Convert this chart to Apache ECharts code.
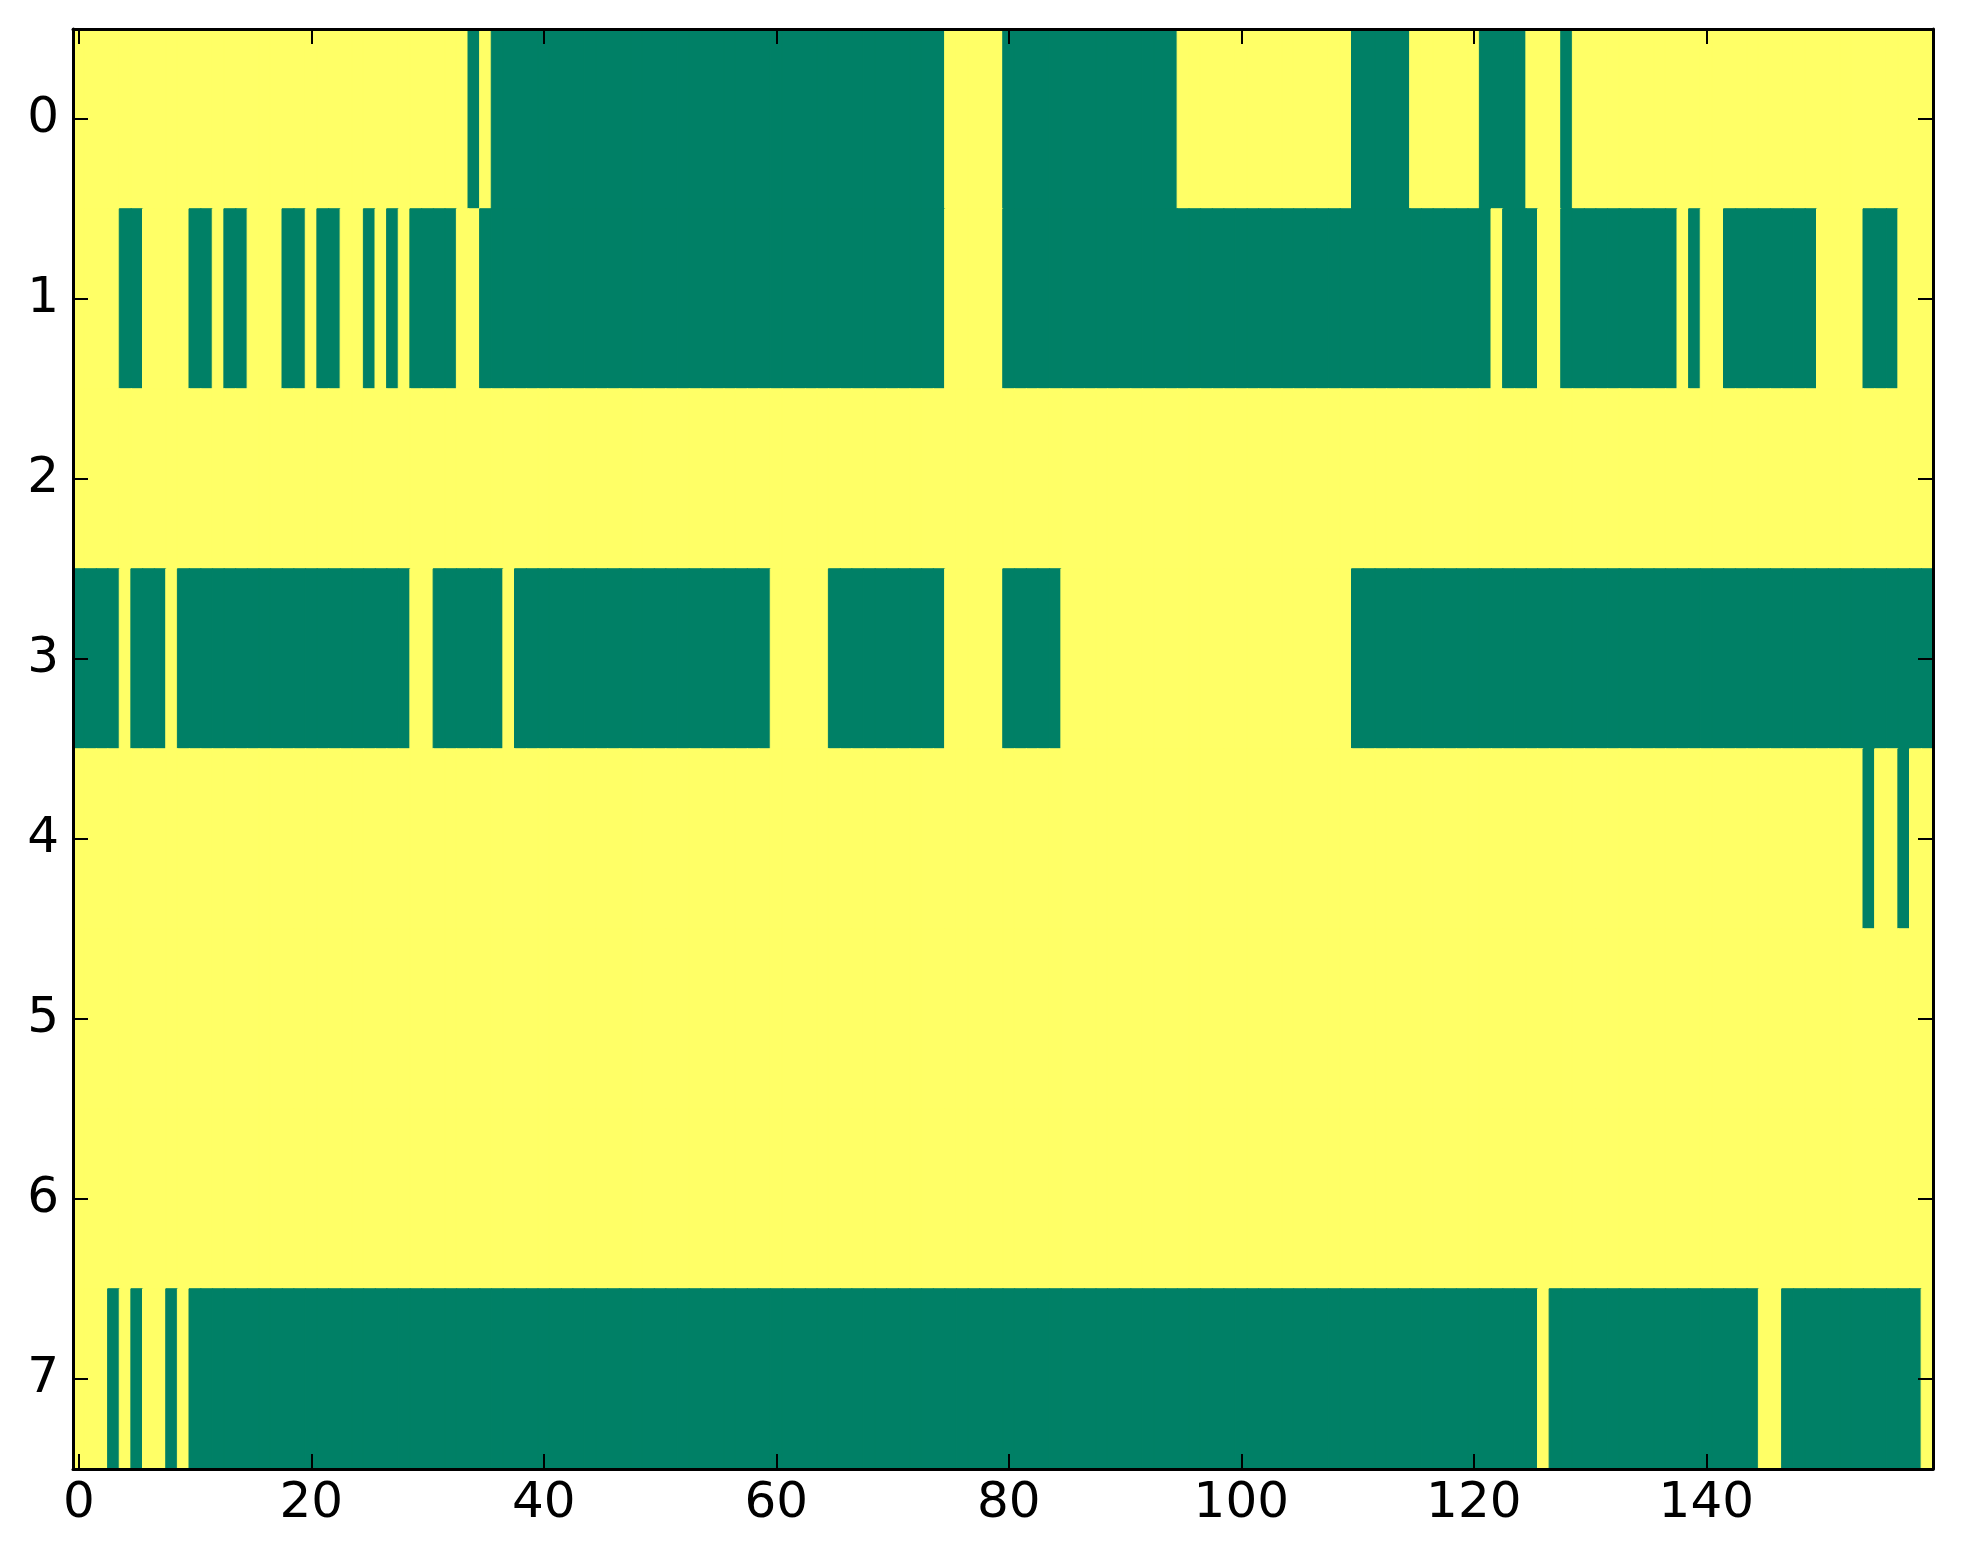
<!DOCTYPE html>
<html>
<head>
<meta charset="utf-8">
<script src="https://cdn.jsdelivr.net/npm/echarts@6/dist/echarts.min.js"></script>
<style>
html,body{margin:0;padding:0;background:#fff;}
#chart{width:1963px;height:1564px;}
</style>
</head>
<body>
<div id="chart"></div>
<script>
// Cell values per row, one character per column (0..159), groups of 10.
// 0 = low (green), 1 = high (yellow)
const row0 = "1111111111 1111111111 1111111111 1111010000 0000000000 0000000000 0000000000 0000011111 0000000000 0000011111 1111111111 0000011111 1000011101 1111111111 1111111111 1111111111";
const row1 = "1111001111 0010011100 1001101010 0001100000 0000000000 0000000000 0000000000 0000011111 0000000000 0000000000 0000000000 0000000000 0010001100 0000000010 1100000000 1111000111";
const row2 = "1111111111 1111111111 1111111111 1111111111 1111111111 1111111111 1111111111 1111111111 1111111111 1111111111 1111111111 1111111111 1111111111 1111111111 1111111111 1111111111";
const row3 = "0000100010 0000000000 0000000001 1000000100 0000000000 0000000000 1111100000 0000011111 0000011111 1111111111 1111111111 0000000000 0000000000 0000000000 0000000000 0000000000";
const row4 = "1111111111 1111111111 1111111111 1111111111 1111111111 1111111111 1111111111 1111111111 1111111111 1111111111 1111111111 1111111111 1111111111 1111111111 1111111111 1111011011";
const row5 = "1111111111 1111111111 1111111111 1111111111 1111111111 1111111111 1111111111 1111111111 1111111111 1111111111 1111111111 1111111111 1111111111 1111111111 1111111111 1111111111";
const row6 = "1111111111 1111111111 1111111111 1111111111 1111111111 1111111111 1111111111 1111111111 1111111111 1111111111 1111111111 1111111111 1111111111 1111111111 1111111111 1111111111";
const row7 = "1110101101 0000000000 0000000000 0000000000 0000000000 0000000000 0000000000 0000000000 0000000000 0000000000 0000000000 0000000000 0000001000 0000000000 0000011000 0000000001";

const rows = [row0, row1, row2, row3, row4, row5, row6, row7];
const rowLabels = ['0','1','2','3','4','5','6','7'];
const xTickLabels = [0, 20, 40, 60, 80, 100, 120, 140];
const nCols = 160;

// summer colormap endpoints
const palette = ['#008066', '#ffff66'];

const colCategories = [];
for (let i = 0; i < nCols; i++) colCategories.push(String(i));

const cells = [];
rows.forEach(function (r, y) {
  const s = r.replace(/\s+/g, '');
  for (let x = 0; x < s.length; x++) {
    const v = Number(s[x]);
    const c = palette[v];
    cells.push({ value: [x, y, v], itemStyle: { color: c, borderColor: c, borderWidth: 1 } });
  }
});

const tickSet = new Set(xTickLabels.map(String));
const FONT = 'DejaVu Sans';
const lineStyle = { color: '#000', width: 3 };
const tickStyle = { color: '#000', width: 2 };

const chart = echarts.init(document.getElementById('chart'), null, { renderer: 'canvas' });
chart.setOption({
  animation: false,
  backgroundColor: '#ffffff',
  grid: { left: 73, right: 30, top: 29, bottom: 95 },
  xAxis: [
    {
      type: 'category', data: colCategories, position: 'bottom', z: 10,
      axisLine: { show: true, lineStyle: lineStyle },
      axisTick: { show: true, inside: true, length: 15, alignWithLabel: true,
        interval: function (i, v) { return tickSet.has(v); }, lineStyle: tickStyle },
      axisLabel: { show: true, fontSize: 50, color: '#000', fontFamily: FONT, margin: 10,
        interval: function (i, v) { return tickSet.has(v); } },
      splitLine: { show: false }
    },
    {
      type: 'category', data: colCategories, position: 'top', z: 10,
      axisLine: { show: true, lineStyle: lineStyle },
      axisTick: { show: true, inside: true, length: 15, alignWithLabel: true,
        interval: function (i, v) { return tickSet.has(v); }, lineStyle: tickStyle },
      axisLabel: { show: false },
      splitLine: { show: false }
    }
  ],
  yAxis: [
    {
      type: 'category', data: rowLabels, inverse: true, position: 'left', z: 10,
      axisLine: { show: true, lineStyle: lineStyle },
      axisTick: { show: true, inside: true, length: 15, alignWithLabel: true, interval: 0, lineStyle: tickStyle },
      axisLabel: { show: true, fontSize: 50, color: '#000', fontFamily: FONT, margin: 14, interval: 0 },
      splitLine: { show: false }
    },
    {
      type: 'category', data: rowLabels, inverse: true, position: 'right', z: 10,
      axisLine: { show: true, lineStyle: lineStyle },
      axisTick: { show: true, inside: true, length: 15, alignWithLabel: true, interval: 0, lineStyle: tickStyle },
      axisLabel: { show: false },
      splitLine: { show: false }
    }
  ],
  series: [{
    type: 'heatmap', xAxisIndex: 0, yAxisIndex: 0,
    data: cells,
    emphasis: { disabled: true },
    progressive: 0
  }]
});
</script>
</body>
</html>
